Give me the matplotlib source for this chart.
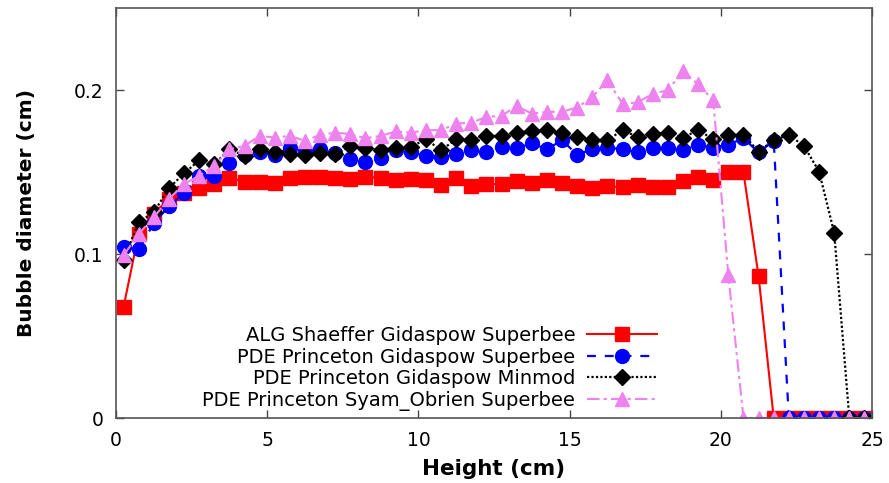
import numpy as np
import matplotlib
matplotlib.use("Agg")
import matplotlib.pyplot as plt

height = [0.25 + 0.5 * i for i in range(50)]

alg_shaeffer_superbee = [
    0.0677, 0.1125, 0.1246, 0.1337, 0.1374, 0.1404, 0.1429, 0.1465, 0.1441, 0.1440,
    0.1435, 0.1465, 0.1470, 0.1470, 0.1465, 0.1455, 0.1470, 0.1465, 0.1450, 0.1460,
    0.1450, 0.1420, 0.1465, 0.1415, 0.1425, 0.1427, 0.1443, 0.1430, 0.1450, 0.1430,
    0.1414, 0.1400, 0.1414, 0.1406, 0.1418, 0.1410, 0.1410, 0.1443, 0.1470, 0.1450,
    0.1497, 0.1497, 0.0863, 0.0, 0.0, 0.0, 0.0, 0.0, 0.0, 0.0]

pde_gidaspow_superbee = [
    0.1041, 0.1031, 0.1187, 0.1291, 0.1372, 0.1477, 0.1477, 0.1554, 0.1603, 0.1619,
    0.1603, 0.1649, 0.1629, 0.1639, 0.1613, 0.1579, 0.1564, 0.1585, 0.1633, 0.1619,
    0.1599, 0.1589, 0.1609, 0.1633, 0.1625, 0.1653, 0.1645, 0.1674, 0.1639, 0.1694,
    0.1605, 0.1639, 0.1649, 0.1639, 0.1619, 0.1645, 0.1645, 0.1633, 0.1666, 0.1649,
    0.1666, 0.1706, 0.1619, 0.1690, 0.0, 0.0, 0.0, 0.0, 0.0, 0.0]

pde_gidaspow_minmod = [
    0.0965, 0.1194, 0.1254, 0.1402, 0.1491, 0.1572, 0.1548, 0.1639, 0.1599, 0.1639,
    0.1619, 0.1609, 0.1603, 0.1613, 0.1609, 0.1660, 0.1645, 0.1633, 0.1649, 0.1653,
    0.1700, 0.1633, 0.1700, 0.1694, 0.1720, 0.1720, 0.1740, 0.1751, 0.1757, 0.1735,
    0.1714, 0.1694, 0.1694, 0.1755, 0.1714, 0.1731, 0.1740, 0.1710, 0.1755, 0.1700,
    0.1726, 0.1726, 0.1625, 0.1694, 0.1726, 0.1659, 0.1503, 0.1129, 0.0, 0.0]

pde_syam_obrien_superbee = [
    0.0991, 0.1123, 0.1224, 0.1335, 0.1427, 0.1477, 0.1538, 0.1639, 0.1660, 0.1720,
    0.1710, 0.1720, 0.1690, 0.1726, 0.1740, 0.1731, 0.1706, 0.1720, 0.1747, 0.1740,
    0.1755, 0.1755, 0.1795, 0.1801, 0.1836, 0.1842, 0.1903, 0.1856, 0.1866, 0.1868,
    0.1893, 0.1957, 0.2059, 0.1917, 0.1924, 0.1978, 0.1998, 0.2116, 0.2035, 0.1937,
    0.0869, 0.0, 0.0, 0.0, 0.0, 0.0, 0.0, 0.0, 0.0, 0.0]

labels = ["ALG Shaeffer Gidaspow Superbee",
          "PDE Princeton Gidaspow Superbee",
          "PDE Princeton Gidaspow Minmod",
          "PDE Princeton Syam_Obrien Superbee"]

x_ticks = [0, 5, 10, 15, 20, 25]
y_ticks = [0, 0.1, 0.2]
y_ticklabels = ["0", "0.1", "0.2"]

fig = plt.figure(figsize=(8.89, 4.83), dpi=100)
ax = fig.add_axes([116 / 889, 1 - 418 / 483, (872 - 116) / 889, (418 - 8) / 483])

ax.plot(height, alg_shaeffer_superbee, color="#ff0000", linestyle="-", linewidth=1.5,
        marker="s", markersize=10, label=labels[0])
ax.plot(height, pde_gidaspow_superbee, color="#0000ff", linestyle=(0, (4, 4)), linewidth=1.6,
        marker="o", markersize=10, label=labels[1])
ax.plot(height, pde_gidaspow_minmod, color="#000000", linestyle=(0, (1, 1)), linewidth=1.6,
        marker="D", markersize=8, label=labels[2])
ax.plot(height, pde_syam_obrien_superbee, color="#ee82ee", linestyle=(0, (6, 2, 1.5, 2)), linewidth=1.5,
        marker="^", markersize=10, label=labels[3])

ax.set_xlim(0, 25)
ax.set_ylim(0, 0.25)
ax.set_xticks(x_ticks)
ax.set_xticklabels([str(t) for t in x_ticks])
ax.set_yticks(y_ticks)
ax.set_yticklabels(y_ticklabels)
ax.tick_params(direction="in", length=6, width=1, top=True, right=True,
               labelsize=13.5, pad=9, color="#444444")
for s in ax.spines.values():
    s.set_color("#555555")
    s.set_linewidth(1.2)

ax.set_xlabel("Height (cm)", fontsize=15.5, fontweight="bold", labelpad=7)
ax.set_ylabel("Bubble diameter (cm)", fontsize=14.5, fontweight="bold")
ax.yaxis.set_label_coords(-(116 - 36) / 756, 0.5)

leg = ax.legend(loc="lower right", bbox_to_anchor=(657 / 889, 1 - 411 / 483),
                bbox_transform=fig.transFigure, frameon=False, markerfirst=False,
                fontsize=14, handlelength=3.6, handletextpad=0.6, labelspacing=0.14,
                borderpad=0, borderaxespad=0)

fig.savefig("out.png", dpi=100)
